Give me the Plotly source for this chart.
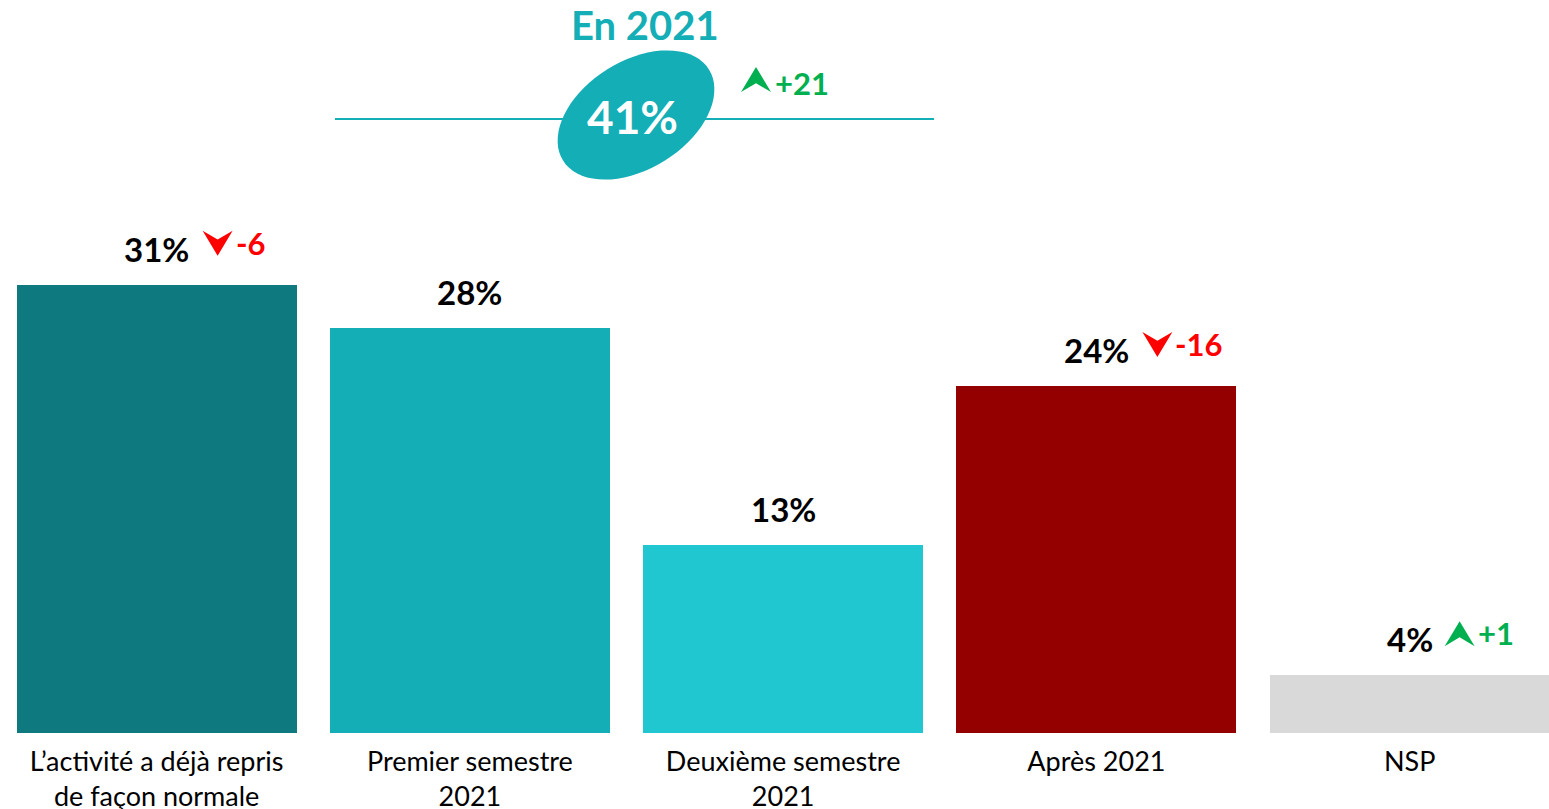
import plotly.graph_objects as go
import numpy as np

# ---------------- data ----------------
categories = ["L’activité a déjà repris<br>de façon normale",
              "Premier semestre<br>2021",
              "Deuxième semestre<br>2021",
              "Après 2021",
              "NSP"]
values = [31, 28, 13, 24, 4]
value_labels = ["31%", "28%", "13%", "24%", "4%"]
deltas = [-6, None, None, -16, 1]
bar_colors = ["#0e7a80", "#13aeb6", "#20c6d0", "#940000", "#d9d9d9"]
summary_title = "En 2021"
summary_value = "41%"
summary_delta = 21

# ---------------- style ----------------
FONT = "Lato"
TEAL = "#13aeb6"
GREEN = "#00b050"
RED = "#ff0000"
W, H = 1549, 809
MT, MB = 0, 76
PH = H - MT - MB  # plot height in px
PX_PER_UNIT = 14.46

fig = go.Figure()
fig.add_trace(go.Bar(
    x=list(range(len(categories))), y=values,
    marker=dict(color=bar_colors, line=dict(width=0)),
    width=0.894, hoverinfo="skip", showlegend=False,
))


def arrow_path(x0, w, base, h, down):
    if down:
        top = base + h
        pts = [(x0, top), (x0 + w / 2, base), (x0 + w, top), (x0 + w / 2, top - h * 0.35)]
    else:
        pts = [(x0, base), (x0 + w / 2, base + h), (x0 + w, base), (x0 + w / 2, base + h * 0.35)]
    return "M" + " L".join(f"{px:.1f},{py:.1f}" for px, py in pts) + " Z"


shapes = []
annotations = []

for i, (v, lab, d) in enumerate(zip(values, value_labels, deltas)):
    annotations.append(dict(
        x=i, y=v, xref="x", yref="y", text=f"<b>{lab}</b>", showarrow=False,
        yanchor="middle", xanchor="center", yshift=36,
        font=dict(family=FONT, size=33, color="#000000"),
    ))
    if d is not None:
        x0 = 11 * len(lab) + 13
        down = d < 0
        col = RED if down else GREEN
        shapes.append(dict(
            type="path", xref="x", yref="y", xsizemode="pixel", ysizemode="pixel",
            xanchor=i, yanchor=v, path=arrow_path(x0, 30, 29, 25, down),
            fillcolor=col, line=dict(width=0), layer="above",
        ))
        annotations.append(dict(
            x=i, y=v, xref="x", yref="y", text=f"<b>{d:+d}</b>", showarrow=False,
            yanchor="middle", xanchor="left", xshift=x0 + 31, yshift=42,
            font=dict(family=FONT, size=31, color=col),
        ))


def px_x(p):
    return p / W


def px_y(p):
    return (PH - (p - MT)) / PH


# horizontal line in summary
shapes.append(dict(type="line", xref="paper", yref="paper",
                   x0=px_x(335), x1=px_x(934), y0=px_y(119), y1=px_y(119),
                   line=dict(color=TEAL, width=2), layer="above"))
# tilted ellipse
t = np.linspace(0, 2 * np.pi, 73)
a, b, phi = 86, 54, np.deg2rad(32)
ex = a * np.cos(t) * np.cos(phi) - b * np.sin(t) * np.sin(phi)
ey = a * np.cos(t) * np.sin(phi) + b * np.sin(t) * np.cos(phi)
epath = "M" + " L".join(f"{x:.1f},{y:.1f}" for x, y in zip(ex, ey)) + " Z"
shapes.append(dict(type="path", xref="paper", yref="paper", xsizemode="pixel", ysizemode="pixel",
                   xanchor=px_x(636), yanchor=px_y(115), path=epath,
                   fillcolor=TEAL, line=dict(width=0), layer="above"))
# summary arrow
shapes.append(dict(type="path", xref="paper", yref="paper", xsizemode="pixel", ysizemode="pixel",
                   xanchor=px_x(741), yanchor=px_y(92), path=arrow_path(0, 30, 0, 25, False),
                   fillcolor=GREEN, line=dict(width=0), layer="above"))

annotations += [
    dict(x=px_x(645), y=px_y(25), xref="paper", yref="paper", text=f"<b>{summary_title}</b>",
         showarrow=False, xanchor="center", yanchor="middle",
         font=dict(family=FONT, size=40, color=TEAL)),
    dict(x=px_x(632), y=px_y(117), xref="paper", yref="paper", text=f"<b>{summary_value}</b>",
         showarrow=False, xanchor="center", yanchor="middle",
         font=dict(family=FONT, size=46, color="#ffffff")),
    dict(x=px_x(773), y=px_y(83), xref="paper", yref="paper", text=f"<b>{summary_delta:+d}</b>",
         showarrow=False, xanchor="left", yanchor="middle",
         font=dict(family=FONT, size=31, color=GREEN)),
]

fig.update_layout(
    width=W, height=H,
    margin=dict(l=0, r=0, t=MT, b=MB, pad=0, autoexpand=False),
    paper_bgcolor="white", plot_bgcolor="white",
    shapes=shapes, annotations=annotations,
    xaxis=dict(tickmode="array", tickvals=list(range(len(categories))), ticktext=categories,
               range=[-0.5, -0.5 + W / 313.25], showgrid=False, zeroline=False, showline=False,
               ticks="", ticklabelstandoff=10, automargin=False,
               tickfont=dict(family=FONT, size=27, color="#000000"), fixedrange=True),
    yaxis=dict(range=[0, PH / PX_PER_UNIT], visible=False, fixedrange=True, automargin=False),
    bargap=0,
)

fig.write_html("out.html", config={"displayModeBar": False},
               post_script="document.body.style.margin='0';document.body.style.overflow='hidden';")
